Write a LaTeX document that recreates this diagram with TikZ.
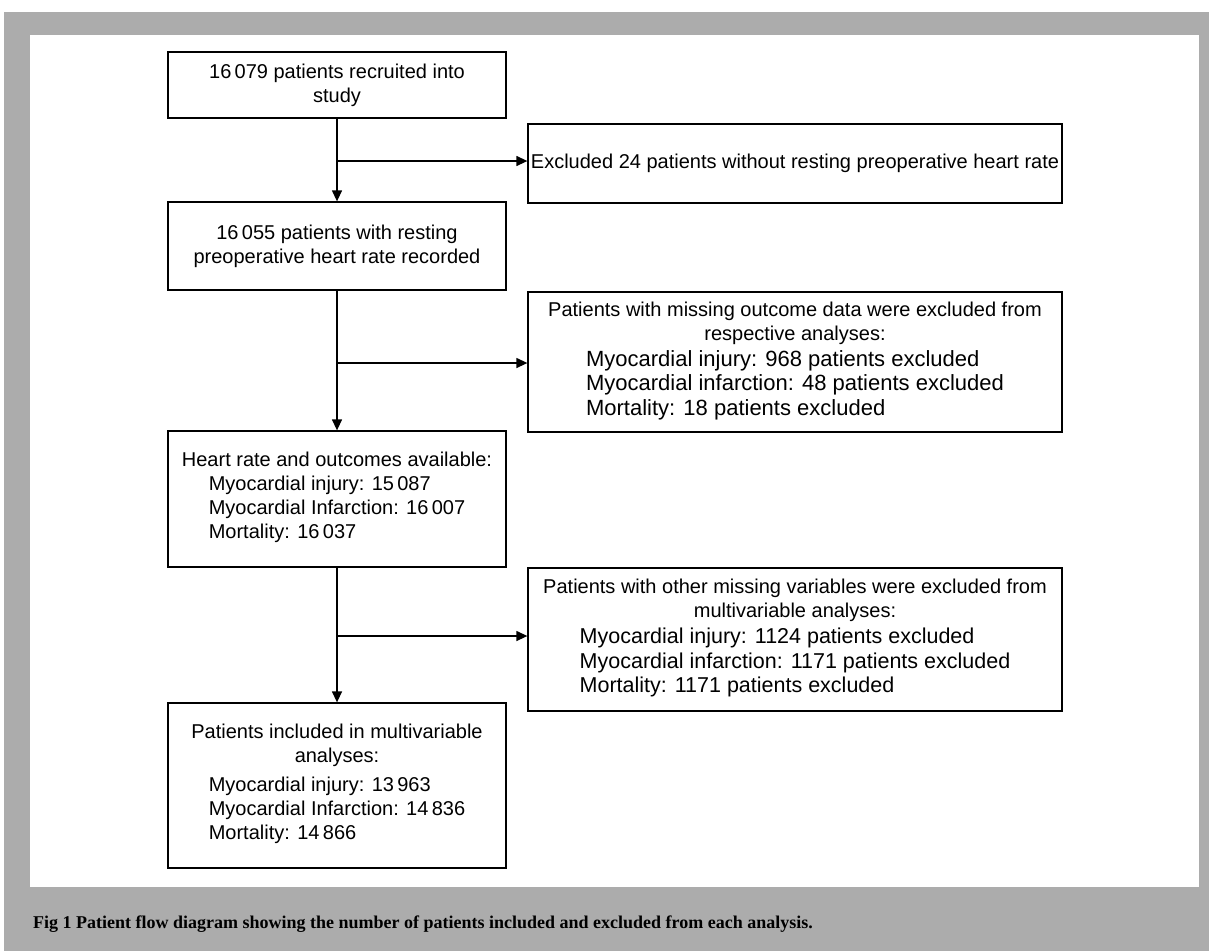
\documentclass[tikz,border=0pt]{standalone}
\usepackage{fontspec}
\setmainfont{Liberation Sans}
\newfontfamily\capfont{Liberation Serif}
\usetikzlibrary{arrows.meta}
\definecolor{framegray}{RGB}{172,172,172}
\tikzset{
  flowbox/.style={draw, line width=1.3pt, inner sep=0pt, align=center,
    font=\fontsize{20}{24}\selectfont},
  flowarrow/.style={line width=1.3pt, -{Triangle[length=11pt,width=10pt]}}
}
\newcommand{\biglist}[1]{{\fontsize{22}{24.5}\selectfont\begin{tabular}[t]{@{}l@{}}#1\end{tabular}}}
\newcommand{\midlist}[1]{{\fontsize{21.5}{24.5}\selectfont\begin{tabular}[t]{@{}l@{}}#1\end{tabular}}}
\begin{document}
\begin{tikzpicture}[x=1pt,y=-1pt]
\useasboundingbox (0,0) rectangle (1209,951);
\fill[framegray] (4,12) rectangle (1209,951);
\fill[white] (30,35) rectangle (1199,887);

\node[flowbox, minimum width=338pt, minimum height=66pt] (b1) at (337,85)
  {16\,079 patients recruited into\\study};
\node[flowbox, minimum width=534pt, minimum height=79pt] (ex1) at (795,163.5)
  {Excluded 24 patients without resting preoperative heart rate};
\node[flowbox, minimum width=338pt, minimum height=88pt] (b2) at (337,246)
  {16\,055 patients with resting\\preoperative heart rate recorded};
\node[flowbox, minimum width=534pt, minimum height=140pt] (ex2) at (795,362)
  {Patients with missing outcome data were excluded from\\respective analyses:\\[2pt]
   \biglist{Myocardial injury: 968 patients excluded\\
   Myocardial infarction: 48 patients excluded\\
   Mortality: 18 patients excluded}};
\node[flowbox, minimum width=338pt, minimum height=136pt] (b3) at (337,499)
  {Heart rate and outcomes available:\\
   \begin{tabular}[t]{@{}l@{}}Myocardial injury: 15\,087\\
   Myocardial Infarction: 16\,007\\
   Mortality: 16\,037\end{tabular}};
\node[flowbox, minimum width=534pt, minimum height=143pt] (ex3) at (795,639.5)
  {Patients with other missing variables were excluded from\\multivariable analyses:\\[2pt]
   \midlist{Myocardial injury: 1124 patients excluded\\
   Myocardial infarction: 1171 patients excluded\\
   Mortality: 1171 patients excluded}};
\node[flowbox, minimum width=338pt, minimum height=165pt] (b4) at (337,785.5)
  {Patients included in multivariable\\analyses:\\[5pt]
   \begin{tabular}[t]{@{}l@{}}Myocardial injury: 13\,963\\
   Myocardial Infarction: 14\,836\\
   Mortality: 14\,866\end{tabular}};

\coordinate (j1) at (337,161);
\coordinate (j2) at (337,363);
\coordinate (j3) at (337,636);

\draw[flowarrow] (b1.south) -- (b2.north);
\draw[flowarrow] (b2.south) -- (b3.north);
\draw[flowarrow] (b3.south) -- (b4.north);
\draw[flowarrow] (j1) -- (j1 -| ex1.west);
\draw[flowarrow] (j2) -- (j2 -| ex2.west);
\draw[flowarrow] (j3) -- (j3 -| ex3.west);

\node[anchor=west, inner sep=0pt, font=\capfont\bfseries\fontsize{18}{21}\selectfont] (cap) at (33,924)
  {Fig 1 Patient flow diagram showing the number of patients included and excluded from each analysis.};
\end{tikzpicture}
\end{document}
